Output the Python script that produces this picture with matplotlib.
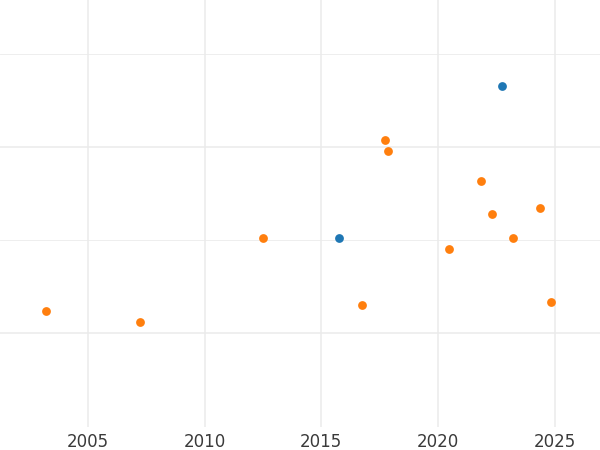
import numpy as np
import matplotlib
matplotlib.use('Agg')
import matplotlib.pyplot as plt
from matplotlib.ticker import FixedLocator

# series values
blue_year = [2022.73, 2015.75]
blue_val = [2.33, 1.51]

orange_year = [2017.75, 2017.87, 2021.84, 2022.33, 2024.36, 2012.49, 2020.49,
               2023.21, 2016.76, 2024.85, 2003.20, 2007.21]
orange_val = [2.04, 1.98, 1.82, 1.64, 1.67, 1.51, 1.45,
              1.51, 1.15, 1.17, 1.12, 1.06]

x_ticks = [2005, 2010, 2015, 2020, 2025]

fig = plt.figure(figsize=(6, 4.5), dpi=100)
ax = fig.add_axes([0, 23 / 450, 1, 427 / 450])

ax.scatter(blue_year, blue_val, s=40, color='#1f77b4', zorder=3, linewidths=0)
ax.scatter(orange_year, orange_val, s=40, color='#ff7f0e', zorder=3, linewidths=0)

ax.set_xlim(2001.23, 2026.95)
ax.set_ylim(0.496, 2.79)
ax.set_xticks(x_ticks)
ax.set_xticklabels([str(t) for t in x_ticks])
ax.yaxis.set_major_locator(FixedLocator([1.0, 2.0]))
ax.yaxis.set_minor_locator(FixedLocator([1.5, 2.5]))

ax.grid(True, which='major', color='#ebebeb', linewidth=1.1)
ax.grid(True, which='minor', axis='y', color='#ebebeb', linewidth=0.6)
ax.set_axisbelow(True)

ax.tick_params(axis='x', length=0, pad=4, labelsize=12, labelcolor='#3a3a3a')
ax.tick_params(axis='y', which='both', length=0, labelleft=False)
for s in ax.spines.values():
    s.set_visible(False)

fig.savefig('out.png', dpi=100)
